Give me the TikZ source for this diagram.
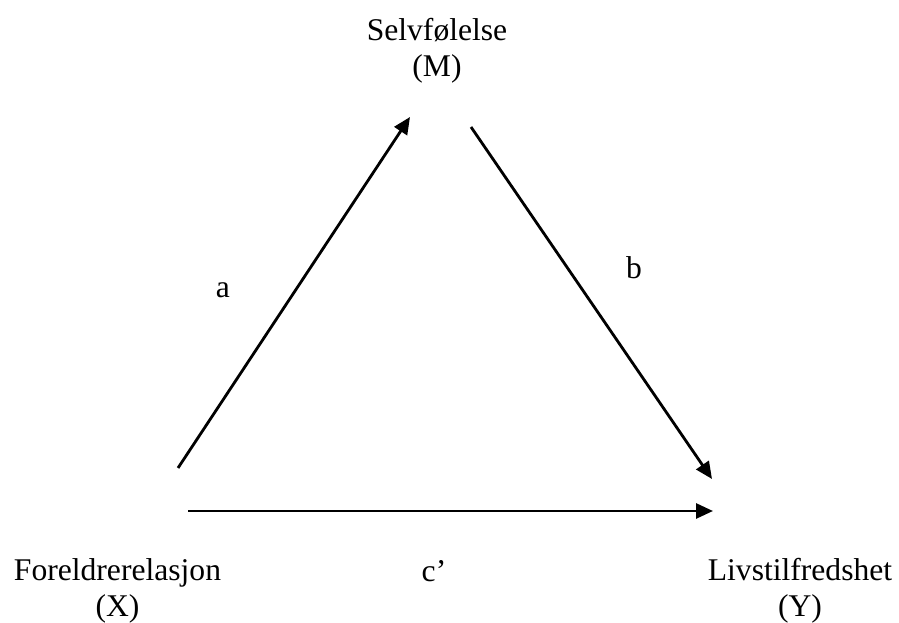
\documentclass[tikz,border=0pt]{standalone}
\usepackage{fontspec}
\setmainfont{Liberation Serif}
\usetikzlibrary{arrows.meta}
\begin{document}
\begin{tikzpicture}[x=1pt,y=1pt,
  lbl/.style={inner sep=0pt,anchor=base,align=center,font=\fontsize{31.6}{36}\selectfont},
  arr/.style={line width=2.8pt,-{Triangle[length=17pt,width=15pt]}}]
\useasboundingbox (0,0) rectangle (899,623);
\node[lbl] (M) at (437,546) {Selvfølelse\\(M)};
\node[lbl] (X) at (117.5,6) {Foreldrerelasjon\\(X)};
\node[lbl] (Y) at (800,6) {Livstilfredshet\\(Y)};
\node[lbl] (la) at (223,325) {a};
\node[lbl] (lb) at (634,344) {b};
\node[lbl] (lc) at (434,41) {c’};
\coordinate (a0) at (178,155);
\coordinate (a1) at (410,506);
\coordinate (b0) at (471,496);
\coordinate (b1) at (712,144);
\coordinate (c0) at (188,112);
\coordinate (c1) at (713,112);
\draw[arr] (a0) -- (a1);
\draw[arr] (b0) -- (b1);
\draw[arr] (c0) -- (c1);
\end{tikzpicture}
\end{document}
